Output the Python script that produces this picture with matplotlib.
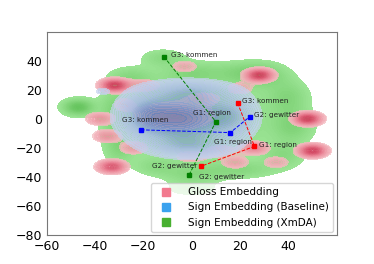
import numpy as np
import matplotlib.pyplot as plt
from matplotlib.colors import LinearSegmentedColormap
from matplotlib.lines import Line2D

# density blobs: centre x, centre y, spread x, spread y, weight
gloss_cx = [-32, 28, 48, 50, -33, -38, -35, -24, -7, 5, 20, 26, 18, -20, -3, 35, 0, -28, 12]
gloss_cy = [23, 30, 0, -22, -33, 0, -12, -20, 2, 14, 21, -20, -30, 23, 36, -30, -26, 10, -22]
gloss_sx = [4, 4, 4, 4, 4, 4, 4, 4, 10, 5, 4, 4, 4, 5, 4, 4, 5, 3, 4]
gloss_sy = [3, 3, 3, 3, 3, 3, 3, 3, 6, 3, 3, 3, 3, 3, 3, 3, 3, 3, 3]
gloss_w = [1.0, 1.0, 1.0, 1.0, 0.85, 0.45, 0.45, 0.4, 0.55, 0.3, 0.3, 0.55, 0.35, 0.35, 0.3, 0.3, 0.3, 0.3, 0.3]

base_cx = [-4, -20, 17, 0, 0, -37]
base_cy = [0, 3, 2, -19, 19, 19]
base_sx = [13, 7, 7, 11, 11, 2.5]
base_sy = [12, 10, 10, 5, 5, 2]
base_w = [1.0, 0.45, 0.45, 0.4, 0.4, 0.2]

xmda_cx = [0, -25, -12, 0, 20, 30, 40, 42, 38, 20, 0, -15, -32, -30, 0, -47]
xmda_cy = [0, 28, 42, 32, 32, 30, 15, -5, -25, -35, -38, -33, 5, -20, -48, 8]
xmda_sx = [17, 6, 6, 8, 8, 7, 6, 6, 6, 10, 8, 6, 4, 4, 8, 4.5]
xmda_sy = [16, 5, 4, 5, 5, 6, 8, 8, 6, 4, 4, 4, 12, 8, 4, 3.8]
xmda_w = [1.0, 0.4, 0.35, 0.35, 0.35, 0.45, 0.45, 0.5, 0.4, 0.4, 0.35, 0.3, 0.4, 0.4, 0.25, 0.85]

# word positions for the three groups
words = ["G1: region", "G2: gewitter", "G3: kommen"]
gloss_px = [26, 4, 19]
gloss_py = [-19, -32.6, 11]
base_px = [16, 24, -21]
base_py = [-9.5, 1.4, -7.6]
xmda_px = [10, -1, -11.5]
xmda_py = [-2, -38.4, 42.8]

gx, gy = np.meshgrid(np.linspace(-60, 60, 400), np.linspace(-80, 60, 400))


def density(cx, cy, sx, sy, w):
    z = np.zeros_like(gx)
    for a, b, c, d, e in zip(cx, cy, sx, sy, w):
        z += e * np.exp(-0.5 * (((gx - a) / c) ** 2 + ((gy - b) / d) ** 2))
    return z / z.max()


def fill(ax, z, colors, alpha, lo):
    cmap = LinearSegmentedColormap.from_list("c", colors)
    levels = np.linspace(lo, 1.0, 25)
    ax.contourf(gx, gy, z, levels=levels, cmap=cmap, alpha=alpha)


fig = plt.figure(figsize=(3.74, 2.64), dpi=100)
ax = fig.add_subplot(111)

fill(ax, density(xmda_cx, xmda_cy, xmda_sx, xmda_sy, xmda_w),
     ["#9de596", "#7fd277", "#5dbf55"], 1.0, 0.15)
fill(ax, density(gloss_cx, gloss_cy, gloss_sx, gloss_sy, gloss_w),
     ["#f4bcc2", "#ea8294", "#d0405c"], 0.75, 0.14)
fill(ax, density(base_cx, base_cy, base_sx, base_sy, base_w),
     ["#c6d3ee", "#a9bde2", "#5f7fba"], 0.7, 0.13)

groups = [
    (gloss_px, gloss_py, "red"),
    (base_px, base_py, "blue"),
    (xmda_px, xmda_py, "green"),
]
for px, py, col in groups:
    order = [2, 0, 1]
    ax.plot([px[i] for i in order], [py[i] for i in order], ls="--", lw=0.7,
            color=col, marker="s", ms=3)

txt = dict(fontsize=5.2, color="#222222")
offsets = {
    "red": [(3, 1, "left"), (-3, 0, "right"), (3, 1, "left")],
    "blue": [(2, -7, "center"), (3, 1, "left"), (3, 7, "center")],
    "green": [(-3, 6, "center"), (7, -1.5, "left"), (5, 1, "left")],
}
for px, py, col in groups:
    for i, w in enumerate(words):
        dx, dy, ha = offsets[col][i]
        ax.annotate(w, (px[i], py[i]), xytext=(dx, dy), textcoords="offset points",
                    ha=ha, va="center", **txt)

ax.set_xlim(-60, 60)
ax.set_ylim(-80, 60)
ax.set_xticks([-60, -40, -20, 0, 20, 40])
ax.set_yticks([-80, -60, -40, -20, 0, 20, 40])
ax.tick_params(labelsize=9, length=0)
for s in ax.spines.values():
    s.set_color("#777777")

handles = [
    Line2D([], [], ls="none", marker="s", ms=6, color="#f27a8f"),
    Line2D([], [], ls="none", marker="s", ms=6, color="#3aa2ee"),
    Line2D([], [], ls="none", marker="s", ms=6, color="#48b030"),
]
ax.legend(handles, ["Gloss Embedding", "Sign Embedding (Baseline)", "Sign Embedding (XmDA)"],
          loc="lower right", fontsize=7.5, handletextpad=1.2, borderaxespad=0.3)

fig.savefig("out.png", dpi=100)
